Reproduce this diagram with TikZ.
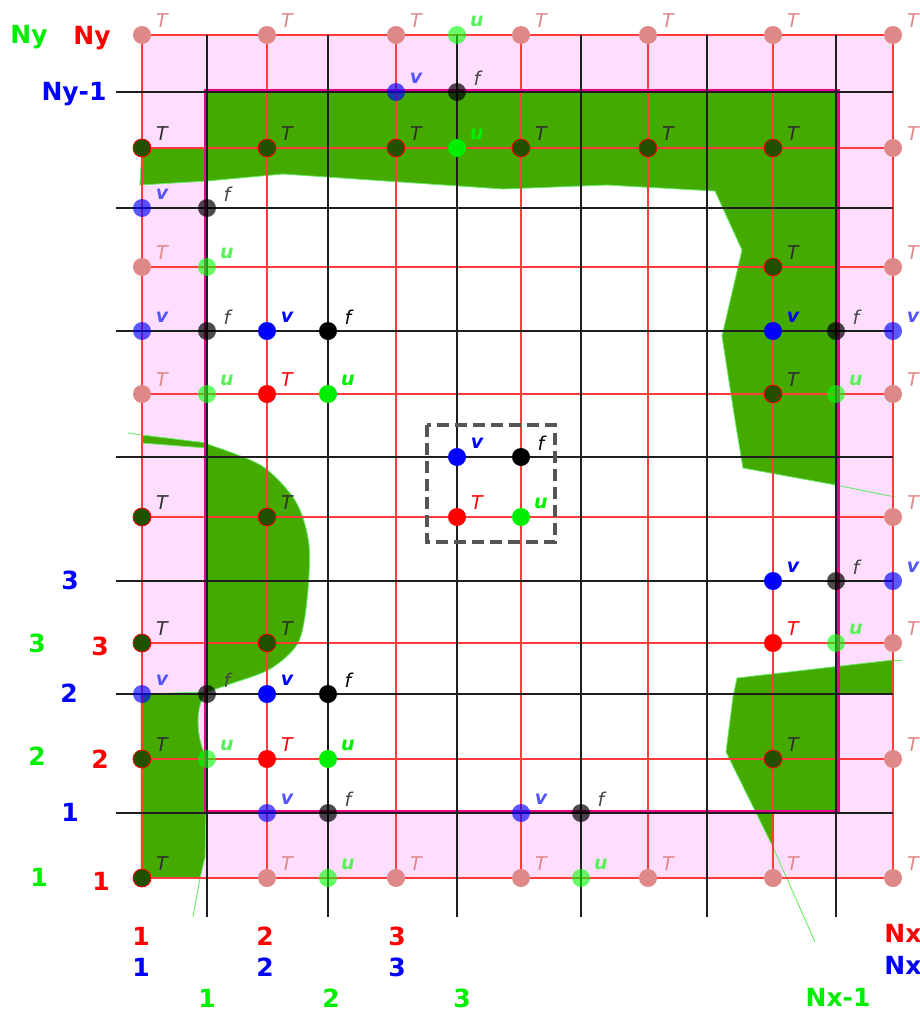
\documentclass[tikz,border=0pt]{standalone}
\usepackage{fontspec}
\setmainfont{DejaVu Sans}
\definecolor{pinkband}{RGB}{255,221,255}
\definecolor{solid}{RGB}{68,170,0}
\definecolor{solidedge}{RGB}{100,235,100}
\definecolor{darkT}{RGB}{34,80,0}
\definecolor{paleT}{RGB}{222,136,136}
\definecolor{gridred}{RGB}{255,60,60}
\definecolor{gridblack}{RGB}{30,30,30}
\definecolor{fadeu}{RGB}{90,240,90}
\definecolor{fadev}{RGB}{85,85,255}
\definecolor{fadef}{RGB}{70,70,70}
\definecolor{brightu}{RGB}{0,238,0}
\definecolor{lbldark}{RGB}{46,46,46}
\definecolor{boxgray}{RGB}{85,85,85}
\tikzset{
  redline/.style={draw=gridred, line width=1.1pt},
  blackline/.style={draw=gridblack, line width=1.2pt},
  solidfill/.style={fill=solid, draw=solidedge, line width=0.8pt},
  edgeline/.style={draw=solidedge, line width=0.9pt},
  pt/.style={circle, minimum size=18pt, inner sep=0pt},
  Tpale/.style={pt, fill=paleT},
  Tdark/.style={pt, fill=darkT, draw=red, line width=0.8pt},
  Tred/.style={pt, fill=red},
  ubr/.style={pt, fill=brightu},
  ufd/.style={pt, fill={rgb,255:red,0;green,255;blue,0}, fill opacity=0.6},
  vbr/.style={pt, fill=blue},
  vfd/.style={pt, fill=blue, fill opacity=0.65},
  fbr/.style={pt, fill=black},
  ffd/.style={pt, fill=black, fill opacity=0.7},
  lbl/.style={font=\fontsize{19}{19}\selectfont\itshape, inner sep=0pt},
  lblb/.style={font=\fontsize{19}{19}\selectfont\bfseries\itshape, inner sep=0pt},
  LTp/.style={lbl, text=paleT},
  LTd/.style={lbl, text=lbldark},
  LTr/.style={lbl, text=red},
  Lub/.style={lblb, text=brightu},
  Luf/.style={lblb, text=fadeu},
  Lvb/.style={lblb, text=blue},
  Lvf/.style={lblb, text=fadev},
  Lfb/.style={lbl, text=black},
  Lff/.style={lbl, text=fadef},
  axl/.style={font=\fontsize{25}{25}\selectfont\bfseries, inner sep=0pt},
  dashbox/.style={draw=boxgray, line width=3.5pt, dash pattern=on 12pt off 6pt}
}
% node: style, x, y, label style, label text
\newcommand\gpt[5]{%
  \node[#1] (p#2-#3) at (#2,#3) {};
  \node[#4] (q#2-#3) at (#2+20,#3-14) {#5};}
\begin{document}
\begin{tikzpicture}[x=1pt,y=-1pt]
\useasboundingbox (0,0) rectangle (920,1012);
% pink band
\fill[pinkband, even odd rule] (142,35) rectangle (893,878) (207,92) rectangle (836,813);
% solid regions
\filldraw[solidfill] (142,148) -- (207,148) -- (207,92) -- (836,92) -- (836,485) -- (743,468)
  -- (735,420) -- (722,336) -- (742,250) -- (715,191) -- (607,185) -- (503,189) -- (283,174)
  -- (207,181) -- (140,185) -- cycle;
\draw[edgeline] (836,485) -- (895,497);
\filldraw[solidfill] plot[smooth] coordinates {(207,444) (262,466) (296,502) (309,545) (307,600) (298,643) (270,669) (230,684) (207,692)} -- cycle;
\filldraw[solidfill] (142,435) -- (207,443) -- (207,448) -- (142,443) -- cycle;
\draw[edgeline] (128,433) -- (142,435);
\filldraw[solidfill] (141,694) -- (207,692) .. controls (195,705) and (195,735) .. (207,760)
  -- (205,857) -- (200,878) -- (141,878) -- cycle;
\draw[edgeline] (200,878) -- (193,917);
\filldraw[solidfill] (737,678) -- (893,660) -- (893,694) -- (836,694) -- (836,813) -- (773,813)
  -- (773,847) -- (726,752) -- (733,697) -- cycle;
\draw[edgeline] (893,660) -- (902,660);
\draw[edgeline] (773,847) -- (815,942);
% grid
\foreach \x in {142,267,396,521,648,773,893} \draw[redline] (\x,35) -- (\x,878);
\foreach \y in {35,148,267,394,517,643,759,878} \draw[redline] (142,\y) -- (893,\y);
\draw[magenta, line width=4pt] (205.5,90.5) rectangle (837.5,812);
\foreach \x in {207,328,457,581,707,836} \draw[blackline] (\x,35) -- (\x,917);
\foreach \y in {92,208,331,457,581,694,813} \draw[blackline] (116,\y) -- (893,\y);
% dashed box
\draw[dashbox] (427,425) rectangle (555,542);
% row 35
\gpt{Tpale}{142}{35}{LTp}{T}
\gpt{Tpale}{267}{35}{LTp}{T}
\gpt{Tpale}{396}{35}{LTp}{T}
\gpt{ufd}{457}{35}{Luf}{u}
\gpt{Tpale}{521}{35}{LTp}{T}
\gpt{Tpale}{648}{35}{LTp}{T}
\gpt{Tpale}{773}{35}{LTp}{T}
\gpt{Tpale}{893}{35}{LTp}{T}
% row 92
\gpt{vfd}{396}{92}{Lvf}{v}
\gpt{ffd}{457}{92}{Lff}{f}
% row 148
\gpt{Tdark}{142}{148}{LTd}{T}
\gpt{Tdark}{267}{148}{LTd}{T}
\gpt{Tdark}{396}{148}{LTd}{T}
\gpt{ubr}{457}{148}{Lub}{u}
\gpt{Tdark}{521}{148}{LTd}{T}
\gpt{Tdark}{648}{148}{LTd}{T}
\gpt{Tdark}{773}{148}{LTd}{T}
\gpt{Tpale}{893}{148}{LTp}{T}
% row 208
\gpt{vfd}{142}{208}{Lvf}{v}
\gpt{ffd}{207}{208}{Lff}{f}
% row 267
\gpt{Tpale}{142}{267}{LTp}{T}
\gpt{ufd}{207}{267}{Luf}{u}
\gpt{Tdark}{773}{267}{LTd}{T}
\gpt{Tpale}{893}{267}{LTp}{T}
% row 331
\gpt{vfd}{142}{331}{Lvf}{v}
\gpt{ffd}{207}{331}{Lff}{f}
\gpt{vbr}{267}{331}{Lvb}{v}
\gpt{fbr}{328}{331}{Lfb}{f}
\gpt{vbr}{773}{331}{Lvb}{v}
\gpt{ffd}{836}{331}{Lff}{f}
\gpt{vfd}{893}{331}{Lvf}{v}
% row 394
\gpt{Tpale}{142}{394}{LTp}{T}
\gpt{ufd}{207}{394}{Luf}{u}
\gpt{Tred}{267}{394}{LTr}{T}
\gpt{ubr}{328}{394}{Lub}{u}
\gpt{Tdark}{773}{394}{LTd}{T}
\gpt{ufd}{836}{394}{Luf}{u}
\gpt{Tpale}{893}{394}{LTp}{T}
% row 457
\gpt{vbr}{457}{457}{Lvb}{v}
\gpt{fbr}{521}{457}{Lfb}{f}
% row 517
\gpt{Tdark}{142}{517}{LTd}{T}
\gpt{Tdark}{267}{517}{LTd}{T}
\gpt{Tred}{457}{517}{LTr}{T}
\gpt{ubr}{521}{517}{Lub}{u}
\gpt{Tpale}{893}{517}{LTp}{T}
% row 581
\gpt{vbr}{773}{581}{Lvb}{v}
\gpt{ffd}{836}{581}{Lff}{f}
\gpt{vfd}{893}{581}{Lvf}{v}
% row 643
\gpt{Tdark}{142}{643}{LTd}{T}
\gpt{Tdark}{267}{643}{LTd}{T}
\gpt{Tred}{773}{643}{LTr}{T}
\gpt{ufd}{836}{643}{Luf}{u}
\gpt{Tpale}{893}{643}{LTp}{T}
% row 694
\gpt{vfd}{142}{694}{Lvf}{v}
\gpt{ffd}{207}{694}{Lff}{f}
\gpt{vbr}{267}{694}{Lvb}{v}
\gpt{fbr}{328}{694}{Lfb}{f}
% row 759
\gpt{Tdark}{142}{759}{LTd}{T}
\gpt{ufd}{207}{759}{Luf}{u}
\gpt{Tred}{267}{759}{LTr}{T}
\gpt{ubr}{328}{759}{Lub}{u}
\gpt{Tdark}{773}{759}{LTd}{T}
\gpt{Tpale}{893}{759}{LTp}{T}
% row 813
\gpt{vfd}{267}{813}{Lvf}{v}
\gpt{ffd}{328}{813}{Lff}{f}
\gpt{vfd}{521}{813}{Lvf}{v}
\gpt{ffd}{581}{813}{Lff}{f}
% row 878
\gpt{Tdark}{142}{878}{LTd}{T}
\gpt{Tpale}{267}{878}{LTp}{T}
\gpt{ufd}{328}{878}{Luf}{u}
\gpt{Tpale}{396}{878}{LTp}{T}
\gpt{Tpale}{521}{878}{LTp}{T}
\gpt{ufd}{581}{878}{Luf}{u}
\gpt{Tpale}{648}{878}{LTp}{T}
\gpt{Tpale}{773}{878}{LTp}{T}
\gpt{Tpale}{893}{878}{LTp}{T}
% axis labels left
\node[axl, text=brightu, anchor=base] (nyg) at (29,43) {Ny};
\node[axl, text=red, anchor=base] (nyr) at (92,44) {Ny};
\node[axl, text=blue, anchor=base] (ny1) at (74,100) {Ny-1};
\node[axl, text=blue] (lb3) at (70,580) {3};
\node[axl, text=brightu] (lg3) at (37,643) {3};
\node[axl, text=red] (lr3) at (100,646) {3};
\node[axl, text=blue] (lb2) at (69,693) {2};
\node[axl, text=brightu] (lg2) at (37,756) {2};
\node[axl, text=red] (lr2) at (100,759) {2};
\node[axl, text=blue] (lb1) at (70,812) {1};
\node[axl, text=brightu] (lg1) at (39,877) {1};
\node[axl, text=red] (lr1) at (101,881) {1};
% axis labels bottom
\node[axl, text=red] (br1) at (141,936) {1};
\node[axl, text=blue] (bb1) at (141,967) {1};
\node[axl, text=red] (br2) at (265,936) {2};
\node[axl, text=blue] (bb2) at (265,967) {2};
\node[axl, text=red] (br3) at (397,936) {3};
\node[axl, text=blue] (bb3) at (397,967) {3};
\node[axl, text=red] (brn) at (903,933) {Nx};
\node[axl, text=blue] (bbn) at (903,965) {Nx};
\node[axl, text=brightu] (bg1) at (207,998) {1};
\node[axl, text=brightu] (bg2) at (331,998) {2};
\node[axl, text=brightu] (bg3) at (462,998) {3};
\node[axl, text=brightu] (bgn) at (838,997) {Nx-1};
\end{tikzpicture}
\end{document}
